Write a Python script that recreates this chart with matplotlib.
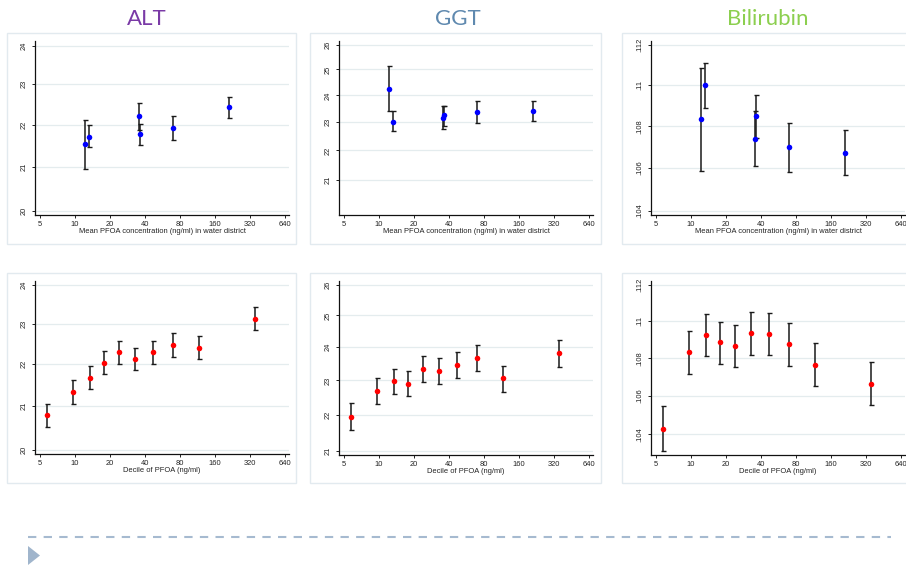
import matplotlib
matplotlib.use("Agg")
import matplotlib.pyplot as plt
from matplotlib.patches import Rectangle, Polygon
from matplotlib.lines import Line2D
from matplotlib.ticker import NullLocator, NullFormatter, FixedLocator, FixedFormatter

# ---------------- data ----------------
titles = ["ALT", "GGT", "Bilirubin"]
title_colors = ["#7a3aa6", "#5f89af", "#8ccf4f"]

xticks = [5, 10, 20, 40, 80, 160, 320, 640]
xtick_labels = ["5", "10", "20", "40", "80", "160", "320", "640"]

top_xlabel = "Mean PFOA concentration (ng/ml) in water district"
bot_xlabel = "Decile of PFOA (ng/ml)"

# top row: mean PFOA in water district
top_x = [12.3, 13.4, 35.8, 36.7, 69.8, 210]
alt_top = [21.53, 21.71, 22.20, 21.77, 21.91, 22.43]
alt_top_lo = [20.94, 21.45, 21.87, 21.52, 21.63, 22.16]
alt_top_hi = [22.11, 21.98, 22.53, 22.02, 22.20, 22.69]

ggt_top = [24.25, 23.02, 23.17, 23.25, 23.37, 23.41]
ggt_top_lo = [23.42, 22.67, 22.75, 22.88, 22.98, 23.04]
ggt_top_hi = [25.13, 23.40, 23.61, 23.61, 23.79, 23.79]

bili_top = [0.10835, 0.1100, 0.10741, 0.10848, 0.10700, 0.10671]
bili_top_lo = [0.10587, 0.10887, 0.10608, 0.10746, 0.10583, 0.10566]
bili_top_hi = [0.11083, 0.11108, 0.10874, 0.10951, 0.10815, 0.10782]

# bottom row: deciles of PFOA
dec_x = [5.8, 9.7, 13.5, 17.9, 24.0, 33.0, 47.5, 70.5, 118, 354]
alt_dec = [20.79, 21.33, 21.66, 22.03, 22.29, 22.13, 22.29, 22.47, 22.39, 23.12]
alt_dec_lo = [20.52, 21.05, 21.39, 21.75, 22.00, 21.85, 22.00, 22.18, 22.11, 22.83]
alt_dec_hi = [21.05, 21.62, 21.94, 22.31, 22.57, 22.40, 22.57, 22.76, 22.68, 23.43]

ggt_dec = [21.95, 22.69, 22.97, 22.89, 23.35, 23.29, 23.46, 23.68, 23.06, 23.81]
ggt_dec_lo = [21.57, 22.31, 22.60, 22.53, 22.95, 22.89, 23.06, 23.28, 22.67, 23.41]
ggt_dec_hi = [22.34, 23.07, 23.35, 23.29, 23.73, 23.66, 23.86, 24.07, 23.44, 24.22]

bili_dec = [0.1043, 0.10832, 0.10927, 0.10885, 0.10867, 0.10934, 0.1093, 0.10878, 0.10766, 0.10665]
bili_dec_lo = [0.10315, 0.10716, 0.10812, 0.10770, 0.10752, 0.10820, 0.10816, 0.10756, 0.1065, 0.10552]
bili_dec_hi = [0.10546, 0.10947, 0.11042, 0.10996, 0.10982, 0.1105, 0.11046, 0.10992, 0.10884, 0.10782]

alt_yticks = [20, 21, 22, 23, 24]
alt_ylabels = ["20", "21", "22", "23", "24"]
ggt_yticks = [21, 22, 23, 24, 25, 26]
ggt_ylabels = ["21", "22", "23", "24", "25", "26"]
bili_yticks = [0.104, 0.106, 0.108, 0.11, 0.112]
bili_ylabels = [".104", ".106", ".108", ".11", ".112"]

# ---------------- figure ----------------
W, H = 906, 585
fig = plt.figure(figsize=(W / 100, H / 100), dpi=100)
fig.patch.set_facecolor("white")

def frac_rect(x0, y0, x1, y1):
    return [x0 / W, 1 - y1 / H, (x1 - x0) / W, (y1 - y0) / H]

FONT = "Liberation Sans"
TICK_FS = 5.4

# panel boxes
box_col = "#e2eaef"
for (x0, y0, x1, y1) in [(7, 33, 296, 244), (310, 33, 601, 244), (622, 33, 912, 244),
                         (7, 273, 296, 483), (310, 273, 601, 483), (622, 273, 912, 483)]:
    fig.patches.append(Rectangle((x0 / W, 1 - y1 / H), (x1 - x0) / W, (y1 - y0) / H,
                                 transform=fig.transFigure, fill=False,
                                 edgecolor=box_col, linewidth=1.0))

# titles
for t, c, xc in zip(titles, title_colors, [147, 458, 768]):
    fig.text(xc / W, 1 - 25 / H, t, color=c, fontsize=16, family="Lato",
             ha="center", va="baseline")

panels = [
    ((35, 41, 289, 215), top_x, alt_top, alt_top_lo, alt_top_hi, "#0000ff",
     alt_yticks, alt_ylabels, (19.906, 24.13), top_xlabel),
    ((339, 41, 593, 215), top_x, ggt_top, ggt_top_lo, ggt_top_hi, "#0000ff",
     ggt_yticks, ggt_ylabels, (19.87, 26.15), top_xlabel),
    ((651, 41, 905, 215), top_x, bili_top, bili_top_lo, bili_top_hi, "#0000ff",
     bili_yticks, bili_ylabels, (0.1038, 0.1122), top_xlabel),
    ((35, 281, 289, 454), dec_x, alt_dec, alt_dec_lo, alt_dec_hi, "#ff0000",
     alt_yticks, alt_ylabels, (19.92, 24.11), bot_xlabel),
    ((339, 281, 593, 455), dec_x, ggt_dec, ggt_dec_lo, ggt_dec_hi, "#ff0000",
     ggt_yticks, ggt_ylabels, (20.9, 26.13), bot_xlabel),
    ((651, 281, 905, 455), dec_x, bili_dec, bili_dec_lo, bili_dec_hi, "#ff0000",
     bili_yticks, bili_ylabels, (0.10294, 0.11222), bot_xlabel),
]

for rect, xs, ys, lo, hi, col, yt, yl, ylim, xlab in panels:
    ax = fig.add_axes(frac_rect(*rect))
    ax.set_facecolor("white")
    ax.set_xscale("log", base=2)
    ax.set_yscale("log")
    ax.set_xlim(4.56, 695)
    ax.set_ylim(*ylim)
    ax.xaxis.set_major_locator(FixedLocator(xticks))
    ax.xaxis.set_major_formatter(FixedFormatter(xtick_labels))
    ax.xaxis.set_minor_locator(NullLocator())
    ax.xaxis.set_minor_formatter(NullFormatter())
    ax.yaxis.set_major_locator(FixedLocator(yt))
    ax.yaxis.set_major_formatter(FixedFormatter(yl))
    ax.yaxis.set_minor_locator(NullLocator())
    ax.yaxis.set_minor_formatter(NullFormatter())
    for s in ["top", "right"]:
        ax.spines[s].set_visible(False)
    for s in ["left", "bottom"]:
        ax.spines[s].set_color("#111111")
        ax.spines[s].set_linewidth(0.9)
    ax.tick_params(axis="both", direction="out", length=2.5, width=0.7,
                   labelsize=TICK_FS, colors="#222222", pad=1.5)
    ax.tick_params(axis="y", pad=3)
    for lab in ax.get_yticklabels():
        lab.set_rotation(90)
        lab.set_va("center")
        lab.set_family(FONT)
    for lab in ax.get_xticklabels():
        lab.set_family(FONT)
    ax.grid(axis="y", color="#e4ecee", linewidth=0.9)
    ax.set_axisbelow(True)
    ax.set_xlabel(xlab, fontsize=TICK_FS, family=FONT, color="#222222", labelpad=0.5)
    yerr = [[y - l for y, l in zip(ys, lo)], [h - y for y, h in zip(ys, hi)]]
    ax.errorbar(xs, ys, yerr=yerr, fmt="none", ecolor="#1a1a1a", elinewidth=1.1,
                capsize=1.8, capthick=1.0, zorder=3)
    ax.plot(xs, ys, "o", color=col, markersize=4.0, markeredgewidth=0, zorder=4)

# bottom decoration: dashed rule and triangle
fig.lines.append(Line2D([28 / W, 891 / W], [1 - 537 / H, 1 - 537 / H],
                        transform=fig.transFigure, color="#a6bad0",
                        linewidth=1.5, linestyle=(0, (4, 3.5))))
fig.patches.append(Polygon([(28 / W, 1 - 546 / H), (28 / W, 1 - 565 / H), (40 / W, 1 - 555.5 / H)],
                           closed=True, transform=fig.transFigure,
                           facecolor="#a0b5cc", edgecolor="none"))

fig.savefig("out.png", dpi=100)
